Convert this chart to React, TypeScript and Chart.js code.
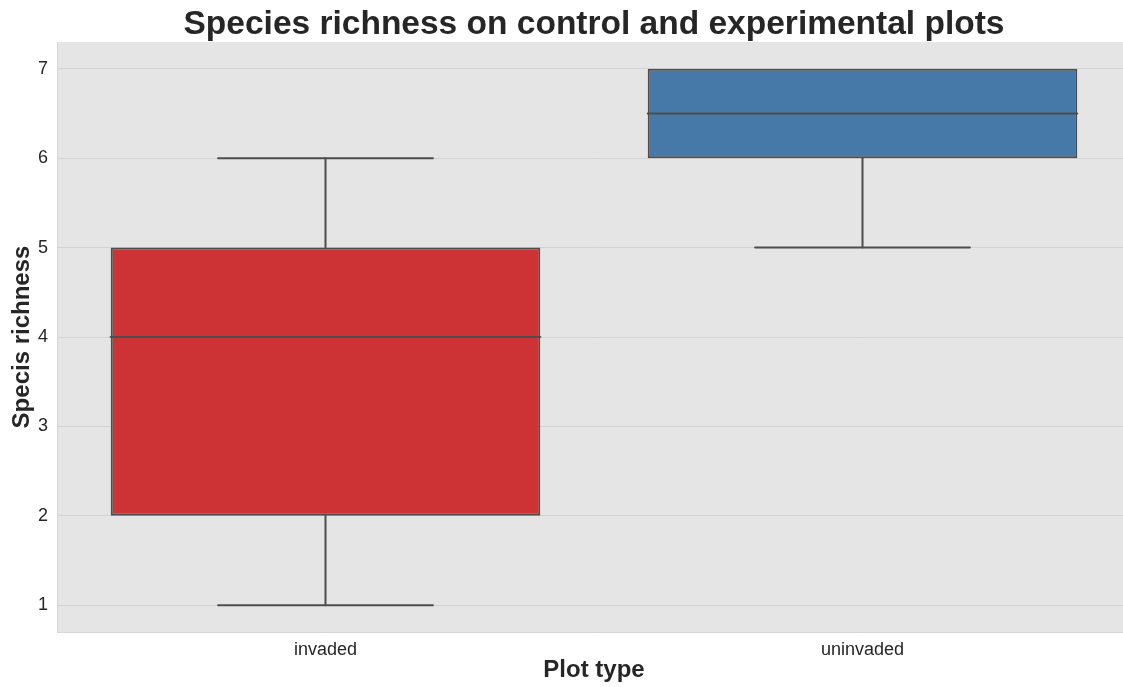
import React, { useRef, useEffect } from 'react';
import { Chart, registerables } from 'chart.js';

Chart.register(...registerables);

// Box plot summary per plot type
const categories = ['invaded', 'uninvaded'];
const whiskerLow = [1, 5];
const q1 = [2, 6];
const medians = [4, 6.5];
const q3 = [5, 7];
const whiskerHigh = [6, 7];
const yTicks = [1, 2, 3, 4, 5, 6, 7];

const boxColors = ['#cd3334', '#4679a8'];
const lineColor = '#4d4d4d';
const textColor = '#262626';
const fontFamily = '"Liberation Sans", Arial, sans-serif';

const boxExtras = {
  id: 'boxExtras',
  beforeDraw(chart: any) {
    const { ctx, chartArea } = chart;
    ctx.save();
    ctx.fillStyle = '#e5e5e5';
    ctx.fillRect(chartArea.left, chartArea.top, chartArea.right - chartArea.left, chartArea.bottom - chartArea.top);
    ctx.restore();
  },
  afterDatasetsDraw(chart: any) {
    const { ctx } = chart;
    const y = chart.scales.y;
    const meta = chart.getDatasetMeta(0);
    const seg = (x1: number, y1: number, x2: number, y2: number) => {
      ctx.beginPath();
      ctx.moveTo(x1, y1);
      ctx.lineTo(x2, y2);
      ctx.stroke();
    };
    ctx.save();
    ctx.strokeStyle = lineColor;
    ctx.lineWidth = 2;
    ctx.lineCap = 'round';
    meta.data.forEach((bar: any, i: number) => {
      const { x, width } = bar.getProps(['x', 'width'], true);
      const half = width / 2;
      const ym = y.getPixelForValue(medians[i]);
      seg(x - half, ym, x + half, ym);
      // lower whisker
      seg(x, y.getPixelForValue(q1[i]), x, y.getPixelForValue(whiskerLow[i]));
      seg(x - half / 2, y.getPixelForValue(whiskerLow[i]), x + half / 2, y.getPixelForValue(whiskerLow[i]));
      // upper whisker
      if (whiskerHigh[i] > q3[i]) {
        seg(x, y.getPixelForValue(q3[i]), x, y.getPixelForValue(whiskerHigh[i]));
        seg(x - half / 2, y.getPixelForValue(whiskerHigh[i]), x + half / 2, y.getPixelForValue(whiskerHigh[i]));
      }
    });
    ctx.restore();
  },
};

export default function App() {
  const canvasRef = useRef<HTMLCanvasElement | null>(null);
  const chartRef = useRef<Chart | null>(null);

  useEffect(() => {
    document.body.style.margin = '0';
    if (!canvasRef.current) return;
    if (chartRef.current) chartRef.current.destroy();

    chartRef.current = new Chart(canvasRef.current, {
      type: 'bar',
      data: {
        labels: categories,
        datasets: [{
          label: 'Species richness',
          data: categories.map((_, i) => [q1[i], q3[i]]),
          backgroundColor: boxColors,
          borderColor: lineColor,
          borderWidth: 2,
          borderSkipped: false,
          categoryPercentage: 1,
          barPercentage: 0.8,
        }],
      },
      options: {
        responsive: true,
        maintainAspectRatio: false,
        animation: false,
        layout: { padding: 0 },
        plugins: {
          legend: { display: false },
          tooltip: { enabled: false },
          title: {
            display: true,
            text: 'Species richness on control and experimental plots',
            color: textColor,
            fullSize: false,
            font: { family: fontFamily, size: 33.5, weight: 'bold', lineHeight: 1 },
            padding: { top: 8, bottom: 0.5 },
          },
        },
        scales: {
          x: {
            grid: { display: false, drawTicks: false },
            border: { display: true, color: '#d6d6d6', width: 1 },
            ticks: { color: textColor, font: { family: fontFamily, size: 18 }, padding: 7 },
            title: {
              display: true,
              text: 'Plot type',
              color: textColor,
              font: { family: fontFamily, size: 24, weight: 'bold' },
              padding: { top: 2, bottom: 2 },
            },
            afterFit(scale: any) { scale.height = 55; },
          },
          y: {
            min: 0.7,
            max: 7.3,
            grid: { color: '#d2d2d2', lineWidth: 1, drawTicks: false },
            border: { display: true, color: '#d6d6d6', width: 1 },
            ticks: { color: textColor, font: { family: fontFamily, size: 18 }, padding: 9 },
            afterBuildTicks(scale: any) { scale.ticks = yTicks.map(v => ({ value: v })); },
            title: {
              display: true,
              text: 'Specis richness',
              color: textColor,
              font: { family: fontFamily, size: 24, weight: 'bold' },
              padding: { top: 8, bottom: 0 },
            },
            afterFit(scale: any) { scale.width = 57; },
          },
        },
      },
      plugins: [boxExtras],
    });

    return () => {
      if (chartRef.current) {
        chartRef.current.destroy();
        chartRef.current = null;
      }
    };
  }, []);

  // the plot area runs past the right edge of the picture, as in the reference
  return (
    <div style={{ width: 1123, height: 687, overflow: 'hidden', background: '#fff' }}>
      <div style={{ width: 1131, height: 687, position: 'relative' }}>
        <canvas ref={canvasRef}></canvas>
      </div>
    </div>
  );
}
